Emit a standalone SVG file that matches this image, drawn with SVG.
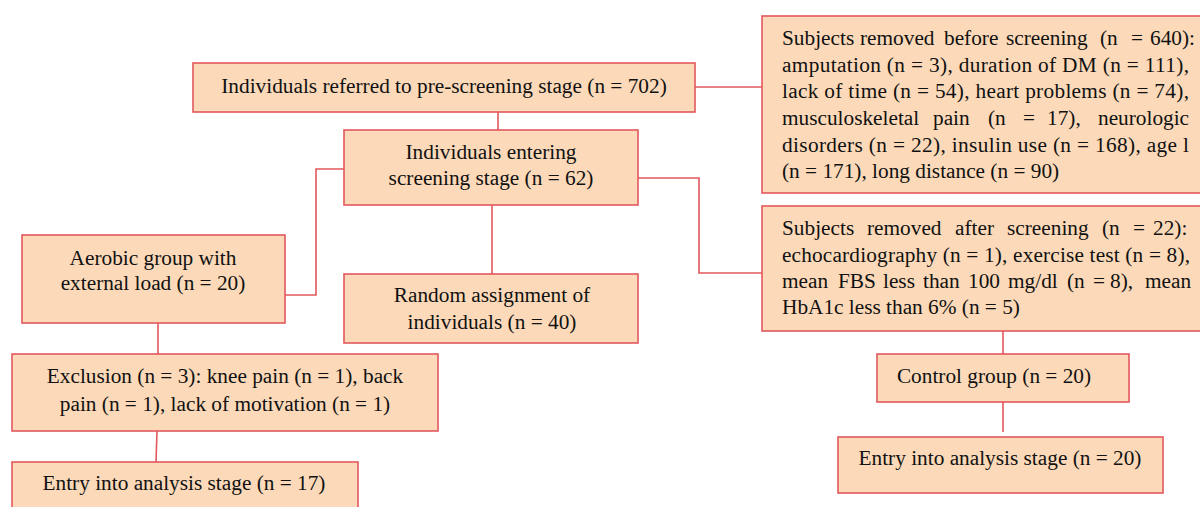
<svg xmlns="http://www.w3.org/2000/svg" width="1200" height="507" viewBox="0 0 1200 507">
<style>
.box{fill:#fcdab9;stroke:#e2585e;stroke-width:1.6}
.t{font-family:"Liberation Serif","Times New Roman",serif;font-size:21.3px;fill:#111}
.c{text-anchor:middle}
.ln{fill:none;stroke:#e2585e;stroke-width:1.6}
</style>
<rect width="1200" height="507" fill="#fff"/>
<g id="connectors">
<path class="ln" d="M695,87 H762"/>
<path class="ln" d="M498,112 V147"/>
<path class="ln" d="M344,169 H316 V295 H285"/>
<path class="ln" d="M492,205 V274"/>
<path class="ln" d="M638,178 H699 V273 H762"/>
<path class="ln" d="M1003,331 V354"/>
<path class="ln" d="M1003,402 V432"/>
<path class="ln" d="M158,323 V354"/>
<path class="ln" d="M157,431 L156,462"/>
</g>
<g id="n1">
<rect class="box" x="193" y="63" width="502" height="49"/>
<text class="t c" x="444" y="93">Individuals referred to pre-screening stage (n = 702)</text>
</g>
<g id="n2">
<rect class="box" x="344" y="130" width="294" height="75"/>
<text class="t c" x="491" y="159">Individuals entering</text>
<text class="t c" x="491" y="185">screening stage (n = 62)</text>
</g>
<g id="n3">
<rect class="box" x="344" y="274" width="294" height="69"/>
<text class="t c" x="492" y="302">Random assignment of</text>
<text class="t c" x="492" y="329">individuals (n = 40)</text>
</g>
<g id="n4">
<rect class="box" x="762" y="16" width="445" height="177"/>
<text class="t" y="45"><tspan x="782">Subjects</tspan><tspan x="860">removed</tspan><tspan x="944">before</tspan><tspan x="1006">screening</tspan><tspan x="1100">(n</tspan><tspan x="1131">=</tspan><tspan x="1150">640):</tspan></text>
<text class="t" x="782" y="72" textLength="407" lengthAdjust="spacing">amputation (n = 3), duration of DM (n = 111),</text>
<text class="t" x="782" y="98" textLength="407" lengthAdjust="spacing">lack of time (n = 54), heart problems (n = 74),</text>
<text class="t" y="125"><tspan x="782">musculoskeletal</tspan><tspan x="933">pain</tspan><tspan x="988">(n</tspan><tspan x="1023">=</tspan><tspan x="1047">17),</tspan><tspan x="1098">neurologic</tspan></text>
<text class="t" x="782" y="152" textLength="407" lengthAdjust="spacing">disorders (n = 22), insulin use (n = 168), age l</text>
<text class="t" x="782" y="178">(n = 171), long distance (n = 90)</text>
</g>
<g id="n5">
<rect class="box" x="762" y="206" width="445" height="125"/>
<text class="t" y="235"><tspan x="782">Subjects</tspan><tspan x="867">removed</tspan><tspan x="955">after</tspan><tspan x="1007">screening</tspan><tspan x="1102">(n</tspan><tspan x="1133">=</tspan><tspan x="1153">22):</tspan></text>
<text class="t" x="782" y="262" textLength="408" lengthAdjust="spacing">echocardiography (n = 1), exercise test (n = 8),</text>
<text class="t" y="288"><tspan x="782">mean</tspan><tspan x="838">FBS</tspan><tspan x="883">less</tspan><tspan x="923">than</tspan><tspan x="968">100</tspan><tspan x="1008">mg/dl</tspan><tspan x="1067">(n</tspan><tspan x="1093">=</tspan><tspan x="1110">8),</tspan><tspan x="1145">mean</tspan></text>
<text class="t" x="782" y="314">HbA1c less than 6% (n = 5)</text>
</g>
<g id="n6">
<rect class="box" x="877" y="354" width="252" height="48"/>
<text class="t c" x="994" y="383">Control group (n = 20)</text>
</g>
<g id="n7">
<rect class="box" x="838" y="437" width="325" height="56"/>
<text class="t c" x="1000" y="465">Entry into analysis stage (n = 20)</text>
</g>
<g id="n8">
<rect class="box" x="22" y="235" width="263" height="88"/>
<text class="t c" x="153" y="265">Aerobic group with</text>
<text class="t c" x="153" y="290">external load (n = 20)</text>
</g>
<g id="n9">
<rect class="box" x="12" y="354" width="426" height="77"/>
<text class="t c" x="225" y="383">Exclusion (n = 3): knee pain (n = 1), back</text>
<text class="t c" x="225" y="411">pain (n = 1), lack of motivation (n = 1)</text>
</g>
<g id="n10">
<rect class="box" x="12" y="462" width="346" height="60"/>
<text class="t c" x="184" y="490">Entry into analysis stage (n = 17)</text>
</g>
</svg>
